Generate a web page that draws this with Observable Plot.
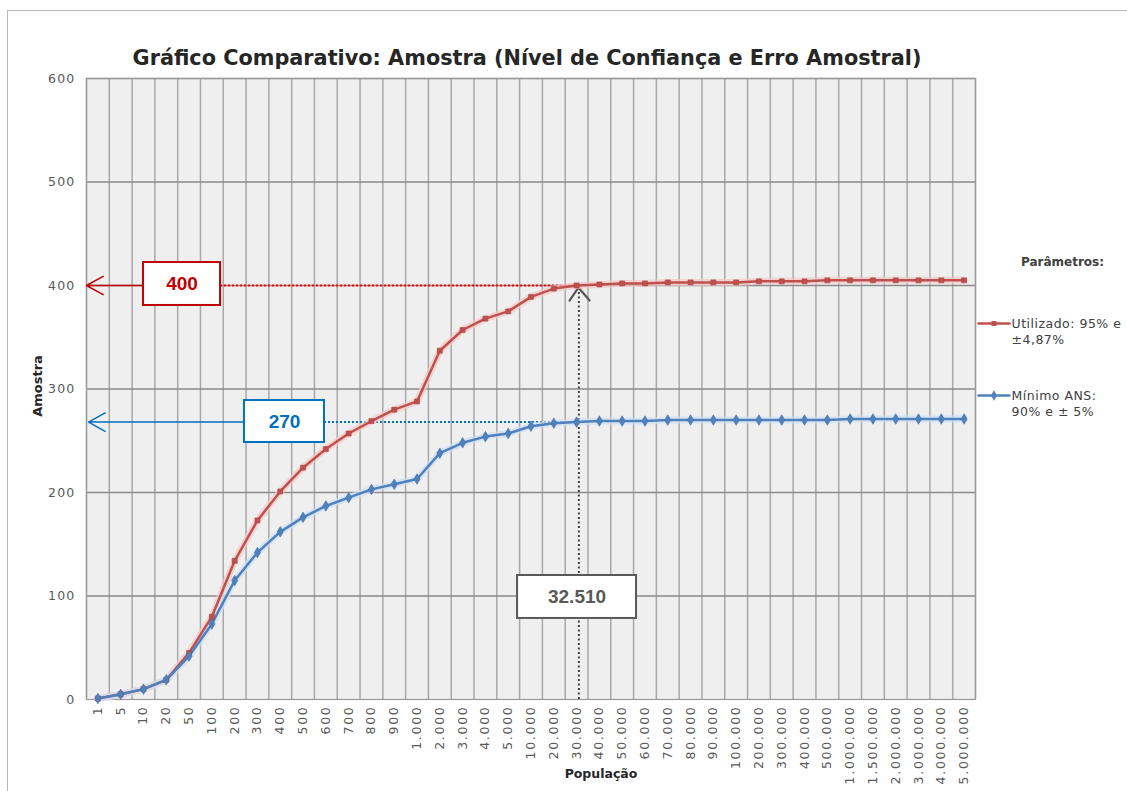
<!DOCTYPE html>
<html><head><meta charset="utf-8">
<script src="https://cdn.jsdelivr.net/npm/d3@7"></script>
<script src="https://cdn.jsdelivr.net/npm/@observablehq/plot@0.6"></script>
<style>
html,body{margin:0;padding:0;background:#fff;overflow:hidden;}
#wrap{position:relative;width:1127px;height:791px;overflow:hidden;}
#border{position:absolute;left:7px;top:10px;width:1200px;height:1000px;border:1px solid #b8b8b8;pointer-events:none;}
#wrap svg{position:absolute;left:0;top:0;}
#wrap svg g[aria-label="x-axis tick label"] text{letter-spacing:1.7px;}
#wrap svg g[aria-label="y-axis tick label"] text{letter-spacing:1.2px;}
#wrap svg g.legendtxt text{letter-spacing:0.5px;}
</style></head><body><div id="wrap"><div id="border"></div></div>
<script>
const categories = ["1","5","10","20","50","100","200","300","400","500","600","700","800","900","1.000","2.000","3.000","4.000","5.000","10.000","20.000","30.000","40.000","50.000","60.000","70.000","80.000","90.000","100.000","200.000","300.000","400.000","500.000","1.000.000","1.500.000","2.000.000","3.000.000","4.000.000","5.000.000"];
const utilizado = [1,5,10,19,45,80,134,173,201,224,242,257,269,280,288,337,357,368,375,389,397,400,401,402,402,403,403,403,403,404,404,404,405,405,405,405,405,405,405];
const minimo = [1,5,10,19,42,73,115,142,162,176,187,195,203,208,213,238,248,254,257,264,267,268,269,269,269,270,270,270,270,270,270,270,270,271,271,271,271,271,271];
const yTicks = [0,100,200,300,400,500,600];
const titleText = "Gráfico Comparativo: Amostra (Nível de Confiança e Erro Amostral)";
const seriesNames = ["Utilizado: 95% e\n±4,87%", "Mínimo ANS:\n90% e ± 5%"];
const refValues = [{label:"400", y:400}, {label:"270", y:268}];
const popLabel = "32.510";

const RED = "#c0504d", BLUE = "#4f81bd";
const idx = d3.range(categories.length);
const redRows = idx.map(i => ({i, v: utilizado[i]}));
const blueRows = idx.map(i => ({i, v: minimo[i]}));

// annotation boxes (data coordinates)
const boxes = [
  {x1:2.0, x2:5.38, y1:380.7, y2:422.2, text:refValues[0].label, c:"#c00000"},
  {x1:6.43, x2:9.94, y1:248.3, y2:288.9, text:refValues[1].label, c:"#0070c0"},
  {x1:18.41, x2:23.63, y1:78.3, y2:119.8, text:popLabel, c:"#595959"}
];
const xMark = 21.1;

const chart = Plot.plot({
  width: 1127, height: 791,
  marginLeft: 86, marginRight: 152, marginTop: 78, marginBottom: 92,
  x: {type: "linear", domain: [-0.5, categories.length - 0.5]},
  y: {domain: [0, 600]},
  style: {fontFamily: "DejaVu Sans", background: "transparent", overflow: "visible"},
  marks: [
    Plot.frame({fill: "#efefef"}),
    Plot.ruleX(d3.range(-0.5, categories.length, 1), {stroke: "#a8a8a8", strokeWidth: 1.5}),
    Plot.ruleY(yTicks.slice(1), {stroke: "#8a8a8a", strokeWidth: 1.5}),
    Plot.frame({stroke: "#9a9a9a", strokeWidth: 1.2}),
    Plot.axisY({ticks: yTicks, tickSize: 0, tickPadding: 11, fontSize: 12.5, color: "#595959", label: null}),
    Plot.axisX({ticks: idx, tickFormat: i => categories[i], tickRotate: -90, tickSize: 0, tickPadding: 6, fontSize: 12.5, color: "#595959", label: null}),
    // reference dotted lines
    Plot.ruleY([refValues[0]], {y: "y", x1: boxes[0].x2, x2: xMark, stroke: "#ff0000", strokeWidth: 2, strokeDasharray: "2,2"}),
    Plot.ruleY([refValues[1]], {y: "y", x1: boxes[1].x2, x2: xMark, stroke: "#0070c0", strokeWidth: 2, strokeDasharray: "2,2"}),
    Plot.ruleX([xMark], {y1: 0, y2: 396, stroke: "#404040", strokeWidth: 2, strokeDasharray: "2,2.5"}),
    Plot.line([{x:20.69,y:385.5},{x:21.08,y:398},{x:21.57,y:385.5}], {x:"x", y:"y", stroke:"#555", strokeWidth:2.2}),
    // arrows to axis
    Plot.arrow([{x1: boxes[0].x1, x2: -0.5, y: refValues[0].y}], {x1:"x1", x2:"x2", y1:"y", y2:"y", stroke:"#c00000", strokeWidth:1.5, headLength:19, headAngle:58}),
    Plot.arrow([{x1: boxes[1].x1, x2: -0.41, y: refValues[1].y}], {x1:"x1", x2:"x2", y1:"y", y2:"y", stroke:"#0070c0", strokeWidth:1.5, headLength:19, headAngle:58}),
    // series halos
    Plot.line(redRows, {x:"i", y:"v", stroke:"#f3c9c8", strokeWidth:7, strokeOpacity:0.7}),
    Plot.line(blueRows, {x:"i", y:"v", stroke:"#cfe0f3", strokeWidth:7, strokeOpacity:0.7}),
    Plot.line(redRows, {x:"i", y:"v", stroke:RED, strokeWidth:2.5}),
    Plot.line(blueRows, {x:"i", y:"v", stroke:BLUE, strokeWidth:2.5}),
    Plot.dot(redRows, {x:"i", y:"v", symbol:"square", r:2.8, fill:RED, stroke:"#a84441", strokeWidth:0.6}),
    Plot.dot(blueRows, {x:"i", y:"v", symbol:"diamond", r:3.2, fill:BLUE, stroke:"#3f6fa8", strokeWidth:0.6}),
    // boxes
    Plot.rect(boxes, {x1:"x1", x2:"x2", y1:"y1", y2:"y2", fill:"white", stroke: d => d.c, strokeWidth:2}),
    Plot.text(boxes, {x: d => (d.x1 + d.x2) / 2, y: d => (d.y1 + d.y2) / 2, text:"text", fill: d => d.c, fontSize:19, fontWeight:"bold", fontFamily:"Liberation Sans"}),
    // title and axis labels
    Plot.text([titleText], {text: d => d, frameAnchor:"top", textAnchor:"middle", dx:-4, dy:-28, fontSize:20.8, fontWeight:"bold", fill:"#262626"}),
    Plot.text(["Amostra"], {text: d => d, frameAnchor:"left", textAnchor:"middle", dx:-49, dy:-3, rotate:-90, fontSize:13, fontWeight:"bold", fill:"#262626"}),
    Plot.text(["População"], {text: d => d, frameAnchor:"bottom", textAnchor:"middle", dx:70, dy:78, fontSize:12.5, fontWeight:"bold", fill:"#262626"}),
    // legend
    Plot.text(["Parâmetros:"], {text: d => d, frameAnchor:"top-right", textAnchor:"middle", dx:87, dy:179, fontSize:12, fontWeight:"bold", fill:"#404040"}),
    Plot.line([{x:38.63,y:363.3},{x:39.99,y:363.3}], {x:"x", y:"y", stroke:RED, strokeWidth:2.5}),
    Plot.dot([{x:39.31,y:363.3}], {x:"x", y:"y", symbol:"square", r:2.8, fill:RED}),
    Plot.line([{x:38.63,y:293.7},{x:39.99,y:293.7}], {x:"x", y:"y", stroke:BLUE, strokeWidth:2.5}),
    Plot.dot([{x:39.31,y:293.7}], {x:"x", y:"y", symbol:"diamond", r:3.2, fill:BLUE}),
    Plot.text([seriesNames[0]], {text: d => d, frameAnchor:"top-right", dx:36, dy:238, textAnchor:"start", fontSize:12.5, lineHeight:1.3, fill:"#404040", className:"legendtxt"}),
    Plot.text([seriesNames[1]], {text: d => d, frameAnchor:"top-right", dx:36, dy:310, textAnchor:"start", fontSize:12.5, lineHeight:1.3, fill:"#404040", className:"legendtxt"})
  ]
});
document.getElementById("wrap").appendChild(chart);
</script></body></html>
